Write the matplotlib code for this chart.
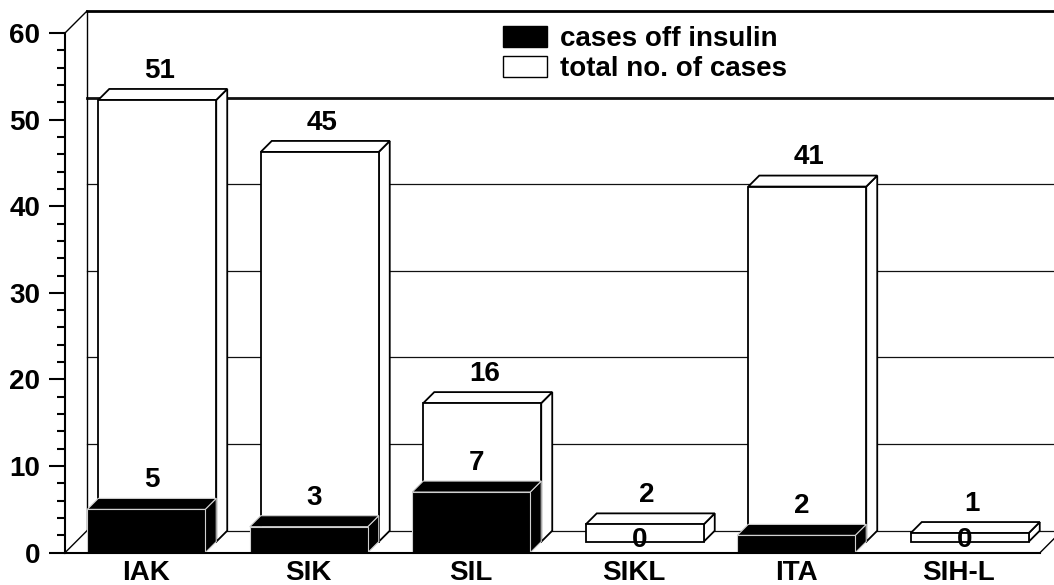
import numpy as np
import matplotlib
matplotlib.use('Agg')
import matplotlib.pyplot as plt
from matplotlib.patches import Polygon, Patch

plt.rcParams['font.family'] = ['Liberation Sans', 'DejaVu Sans']
plt.rcParams['font.weight'] = 'bold'

# data
categories = ['IAK', 'SIK', 'SIL', 'SIKL', 'ITA', 'SIH-L']
off_insulin = [5, 3, 7, 0, 2, 0]
total_cases = [51, 45, 16, 2, 41, 1]

W, H = 1054, 585
fig = plt.figure(figsize=(W / 100, H / 100), dpi=100)
ax = fig.add_axes([65 / W, 1 - 552.7 / H, 975 / W, 519.7 / H])
ax.set_xlim(-0.5, 5.5)
ax.set_ylim(0, 60)

# depth of the pseudo 3d box, in data units (22 px each way)
DX = 22 / (975 / 6)
DY = 22 / (519.7 / 60)
hw = 0.363
fs = 20

# back wall, side wall, floor
x0, x1 = -0.5, 5.5
for v in range(0, 60, 10):
    ax.plot([x0 + DX, x1 + DX], [v + DY, v + DY], color='#111111',
            lw=2.0 if v == 50 else 0.9, zorder=1, clip_on=False)
ax.plot([x0 + DX, x1 + DX + 1], [60 + DY, 60 + DY], color='black', lw=2.0, zorder=1, clip_on=False)
ax.plot([x0 + DX, x0 + DX], [DY, 60 + DY], color='black', lw=1.0, zorder=1, clip_on=False)
ax.plot([x0, x0 + DX], [0, DY], color='black', lw=1.0, zorder=1, clip_on=False)
ax.plot([x0, x0 + DX], [60, 60 + DY], color='black', lw=1.0, zorder=1, clip_on=False)
ax.plot([x1, x1 + DX], [0, DY], color='black', lw=1.0, zorder=1, clip_on=False)


def box(c, v, d0, d1, fc, ec, lw, z):
    l, r = c - hw, c + hw
    front = [(l + d0 * DX, d0 * DY), (r + d0 * DX, d0 * DY),
             (r + d0 * DX, v + d0 * DY), (l + d0 * DX, v + d0 * DY)]
    top = [(l + d0 * DX, v + d0 * DY), (r + d0 * DX, v + d0 * DY),
           (r + d1 * DX, v + d1 * DY), (l + d1 * DX, v + d1 * DY)]
    side = [(r + d0 * DX, d0 * DY), (r + d1 * DX, d1 * DY),
            (r + d1 * DX, v + d1 * DY), (r + d0 * DX, v + d0 * DY)]
    for pts in (side, top, front):
        ax.add_patch(Polygon(pts, closed=True, fc=fc, ec=ec, lw=lw, zorder=z,
                             joinstyle='miter', clip_on=False))


x = np.arange(len(categories))

# total cases: back row
for c, v in zip(x, total_cases):
    box(c, v, 0.5, 1.0, 'white', 'black', 1.3, 3)
    ax.annotate(str(v), (c + 0.6 * DX, v + DY), xytext=(0, 8), textcoords='offset points',
                ha='center', va='baseline', fontsize=fs, fontweight='bold', zorder=6,
                annotation_clip=False)

# cases off insulin: front row
for c, v in zip(x, off_insulin):
    if v > 0:
        box(c, v, 0.0, 0.5, 'black', '#d0d0d0', 0.8, 4)
    ax.annotate(str(v), (c + 0.25 * DX, v + 0.5 * DY), xytext=(0, 8 if v > 0 else -4),
                textcoords='offset points', ha='center', va='baseline',
                fontsize=fs, fontweight='bold', zorder=6, annotation_clip=False)

# axes
for s in ['top', 'right']:
    ax.spines[s].set_visible(False)
ax.spines['left'].set_linewidth(1.5)
ax.spines['bottom'].set_linewidth(1.5)
ax.spines['left'].set_zorder(5)
ax.spines['bottom'].set_zorder(5)
ax.set_yticks(np.arange(0, 61, 10))
ax.set_yticks(np.arange(0, 61, 2), minor=True)
ax.tick_params(axis='y', which='major', length=11.5, width=1.5, pad=6.5, labelsize=fs)
ax.tick_params(axis='y', which='minor', length=5.8, width=1.5)
ax.set_xticks(x)
ax.set_xticklabels(categories, fontsize=fs, fontweight='bold')
ax.tick_params(axis='x', length=0, pad=5)
ax.patch.set_visible(False)

fig.legend(handles=[Patch(fc='black', ec='black'), Patch(fc='white', ec='black', lw=1.0)],
           labels=['cases off insulin', 'total no. of cases'],
           loc='upper left', bbox_to_anchor=(503 / W, 1 - 26 / H), frameon=False,
           borderpad=0, borderaxespad=0, handlelength=1.58, handleheight=0.79,
           handletextpad=0.47, labelspacing=0.12,
           prop={'size': fs, 'weight': 'bold'})

fig.savefig('out.png', dpi=100)
